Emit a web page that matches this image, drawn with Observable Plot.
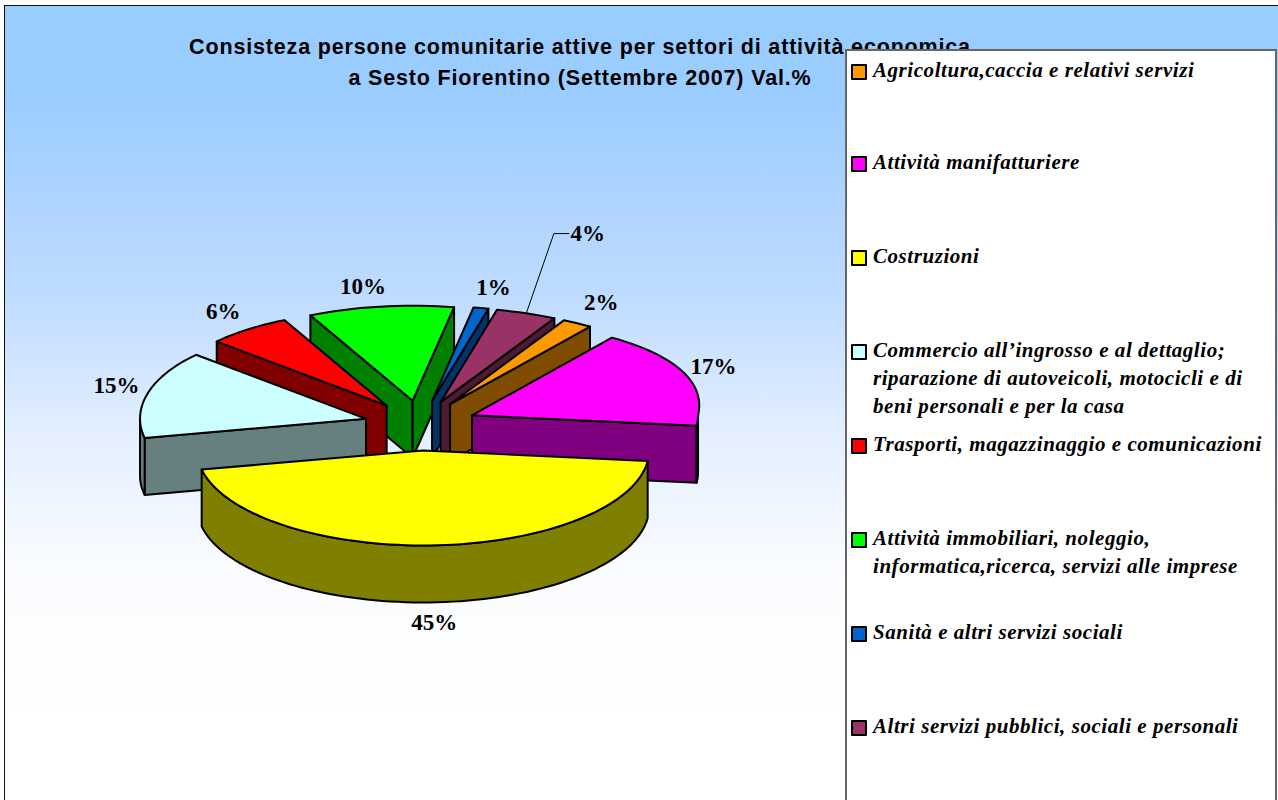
<!DOCTYPE html>
<html><head><meta charset="utf-8">
<script src="https://cdn.jsdelivr.net/npm/d3@7"></script>
<script src="https://cdn.jsdelivr.net/npm/@observablehq/plot@0.6"></script>
<style>
html,body{margin:0;padding:0;background:#fff;overflow:hidden}
#page{position:relative;width:1278px;height:800px;overflow:hidden}
#bg{position:absolute;left:4px;top:5px;width:1274px;height:795px;border-left:1.5px solid #111;border-top:1.5px solid #111;box-sizing:border-box;background:linear-gradient(#99ccff 0,#99ccff 80px,#c0dcff 295px,#e3efff 428px,#fafcff 562px,#ffffff 700px)}
#title{position:absolute;left:180px;top:32px;width:800px;text-align:center;font:bold 21.5px/31px "Liberation Sans",sans-serif;letter-spacing:.83px;color:#000;white-space:nowrap}
#plot{position:absolute;left:0;top:0}
#legend{position:absolute;left:845px;top:49px;width:432px;height:751px;background:#fff;border:2px solid #666;border-bottom:none;box-sizing:border-box}
.row{position:absolute;left:26px;font:italic bold 21px/28px "Liberation Serif",serif;letter-spacing:.55px;color:#000;white-space:pre}
.sw{position:absolute;left:-22px;top:8px;width:12px;height:12px;border:2px solid #000;border-radius:1px}
</style></head>
<body><div id="page"><div id="bg"></div><div id="title"></div><div id="plot"></div><div id="legend"></div></div>
<script>
const titleLines = ["Consisteza persone comunitarie attive per settori di attività economica","a Sesto Fiorentino (Settembre 2007) Val.%"];
const categories = [
  "Agricoltura,caccia e relativi servizi",
  "Attività manifatturiere",
  "Costruzioni",
  "Commercio all’ingrosso e al dettaglio;\nriparazione di autoveicoli, motocicli e di\nbeni personali e per la casa",
  "Trasporti, magazzinaggio e comunicazioni",
  "Attività immobiliari, noleggio,\ninformatica,ricerca, servizi alle imprese",
  "Sanità e altri servizi sociali",
  "Altri servizi pubblici, sociali e personali"
];
const values = [2, 17, 45, 15, 6, 10, 1, 4];
const topColors = ["#ff9900","#ff00ff","#ffff00","#ccffff","#ff0000","#00ff00","#0066cc","#993366"];
const sideColors = ["#804d00","#800080","#808000","#668080","#800000","#008000","#003366","#4d1a33"];

// layout
const firstAngle = 28, explodeX = 0.25, explodeY = 0.263, depth = 0.6, backWiden = 0.04, rightWiden = 0.05;
const pxX = 226, pxY = 95, cx = 420, cy = 425;
const labelRadius = 1.2;
const labelNudge = [[9,-4],[-6,-2],[-1,58],[12,-3],[-1,-3],[-12,-1],[6,-2],[51,-62]];
const legendRowTops = [56,148,242,336,430,524,618,712];

const rad = d => d * Math.PI / 180;
const total = d3.sum(values);
let acc = firstAngle;
const slices = values.map((v, i) => {
  const a0 = acc, a1 = acc + v / total * 360; acc = a1;
  const mid = (a0 + a1) / 2;
  return {i, v, a0, a1, mid, ox: explodeX * Math.sin(rad(mid)), oy: explodeY * Math.cos(rad(mid))};
});
// the back of the pie is drawn a little wider, as in the reference's 3-D view
const widen = a => {
  const c = Math.max(0, Math.cos(rad(a))), s = Math.max(0, Math.sin(rad(a)));
  return 1 + backWiden * c * c + rightWiden * 2 * s * c;
};
const rim = (s, a, drop = 0) => ({x: s.ox + Math.sin(rad(a)) * widen(a), y: s.oy + Math.cos(rad(a)) - drop});
const arc = (s, a0, a1, drop = 0) => {
  const n = Math.max(2, Math.ceil((a1 - a0) / 2));
  return d3.range(n + 1).map(k => rim(s, a0 + (a1 - a0) * k / n, drop));
};
const tip = (s, drop = 0) => ({x: s.ox, y: s.oy - drop});
const poly = (pts, fill) => Plot.line(pts, {x: "x", y: "y", fill, stroke: "#000", strokeWidth: 2, strokeLinejoin: "round", curve: "linear-closed"});

const marks = [];
for (const s of [...slices].sort((a, b) => b.oy - a.oy)) {
  const side = sideColors[s.i];
  if (Math.cos(rad(s.a0 - 90)) < 0)
    marks.push(poly([tip(s), rim(s, s.a0), rim(s, s.a0, depth), tip(s, depth)], side));
  if (Math.cos(rad(s.a1 + 90)) < 0)
    marks.push(poly([tip(s), rim(s, s.a1), rim(s, s.a1, depth), tip(s, depth)], side));
  const w0 = Math.max(s.a0, 90), w1 = Math.min(s.a1, 270);
  if (w1 > w0)
    marks.push(poly([...arc(s, w0, w1), ...arc(s, w0, w1, depth).reverse()], side));
  marks.push(poly([tip(s), ...arc(s, s.a0, s.a1)], topColors[s.i]));
}

// leader line of the 4% label
const m = slices[7];
const lab = s => ({x: s.ox + labelRadius * Math.sin(rad(s.mid)), y: s.oy + labelRadius * Math.cos(rad(s.mid))});
const lm = lab(m), nm = labelNudge[7];
const lAt = off => ({x: lm.x + (nm[0] + off) / pxX, y: lm.y - nm[1] / pxY});
marks.push(Plot.line([rim(m, m.mid), lAt(-34), lAt(-19)], {x: "x", y: "y", stroke: "#000", strokeWidth: 1}));

// data labels
slices.forEach(s => {
  const p = lab(s), [dx, dy] = labelNudge[s.i];
  marks.push(Plot.text([{...p, t: s.v + "%"}], {x: "x", y: "y", text: "t", dx, dy, fill: "#000",
    fontFamily: "Liberation Serif", fontWeight: "bold", fontSize: 23, textAnchor: "middle", lineAnchor: "middle"}));
});

const chart = Plot.plot({
  width: 1278, height: 800, margin: 0,
  style: {background: "transparent"},
  x: {axis: null, domain: [-cx / pxX, (1278 - cx) / pxX], range: [0, 1278]},
  y: {axis: null, domain: [cy / pxY, (cy - 800) / pxY], range: [0, 800]},
  marks
});
document.getElementById("plot").append(chart);

document.getElementById("title").innerHTML = titleLines.join("<br>");

const legend = document.getElementById("legend");
categories.forEach((c, i) => {
  const r = document.createElement("div");
  r.className = "row";
  r.style.top = (legendRowTops[i] - 51) + "px";
  r.textContent = c;
  const sw = document.createElement("span");
  sw.className = "sw";
  sw.style.background = topColors[i];
  r.prepend(sw);
  legend.append(r);
});
</script></body></html>
